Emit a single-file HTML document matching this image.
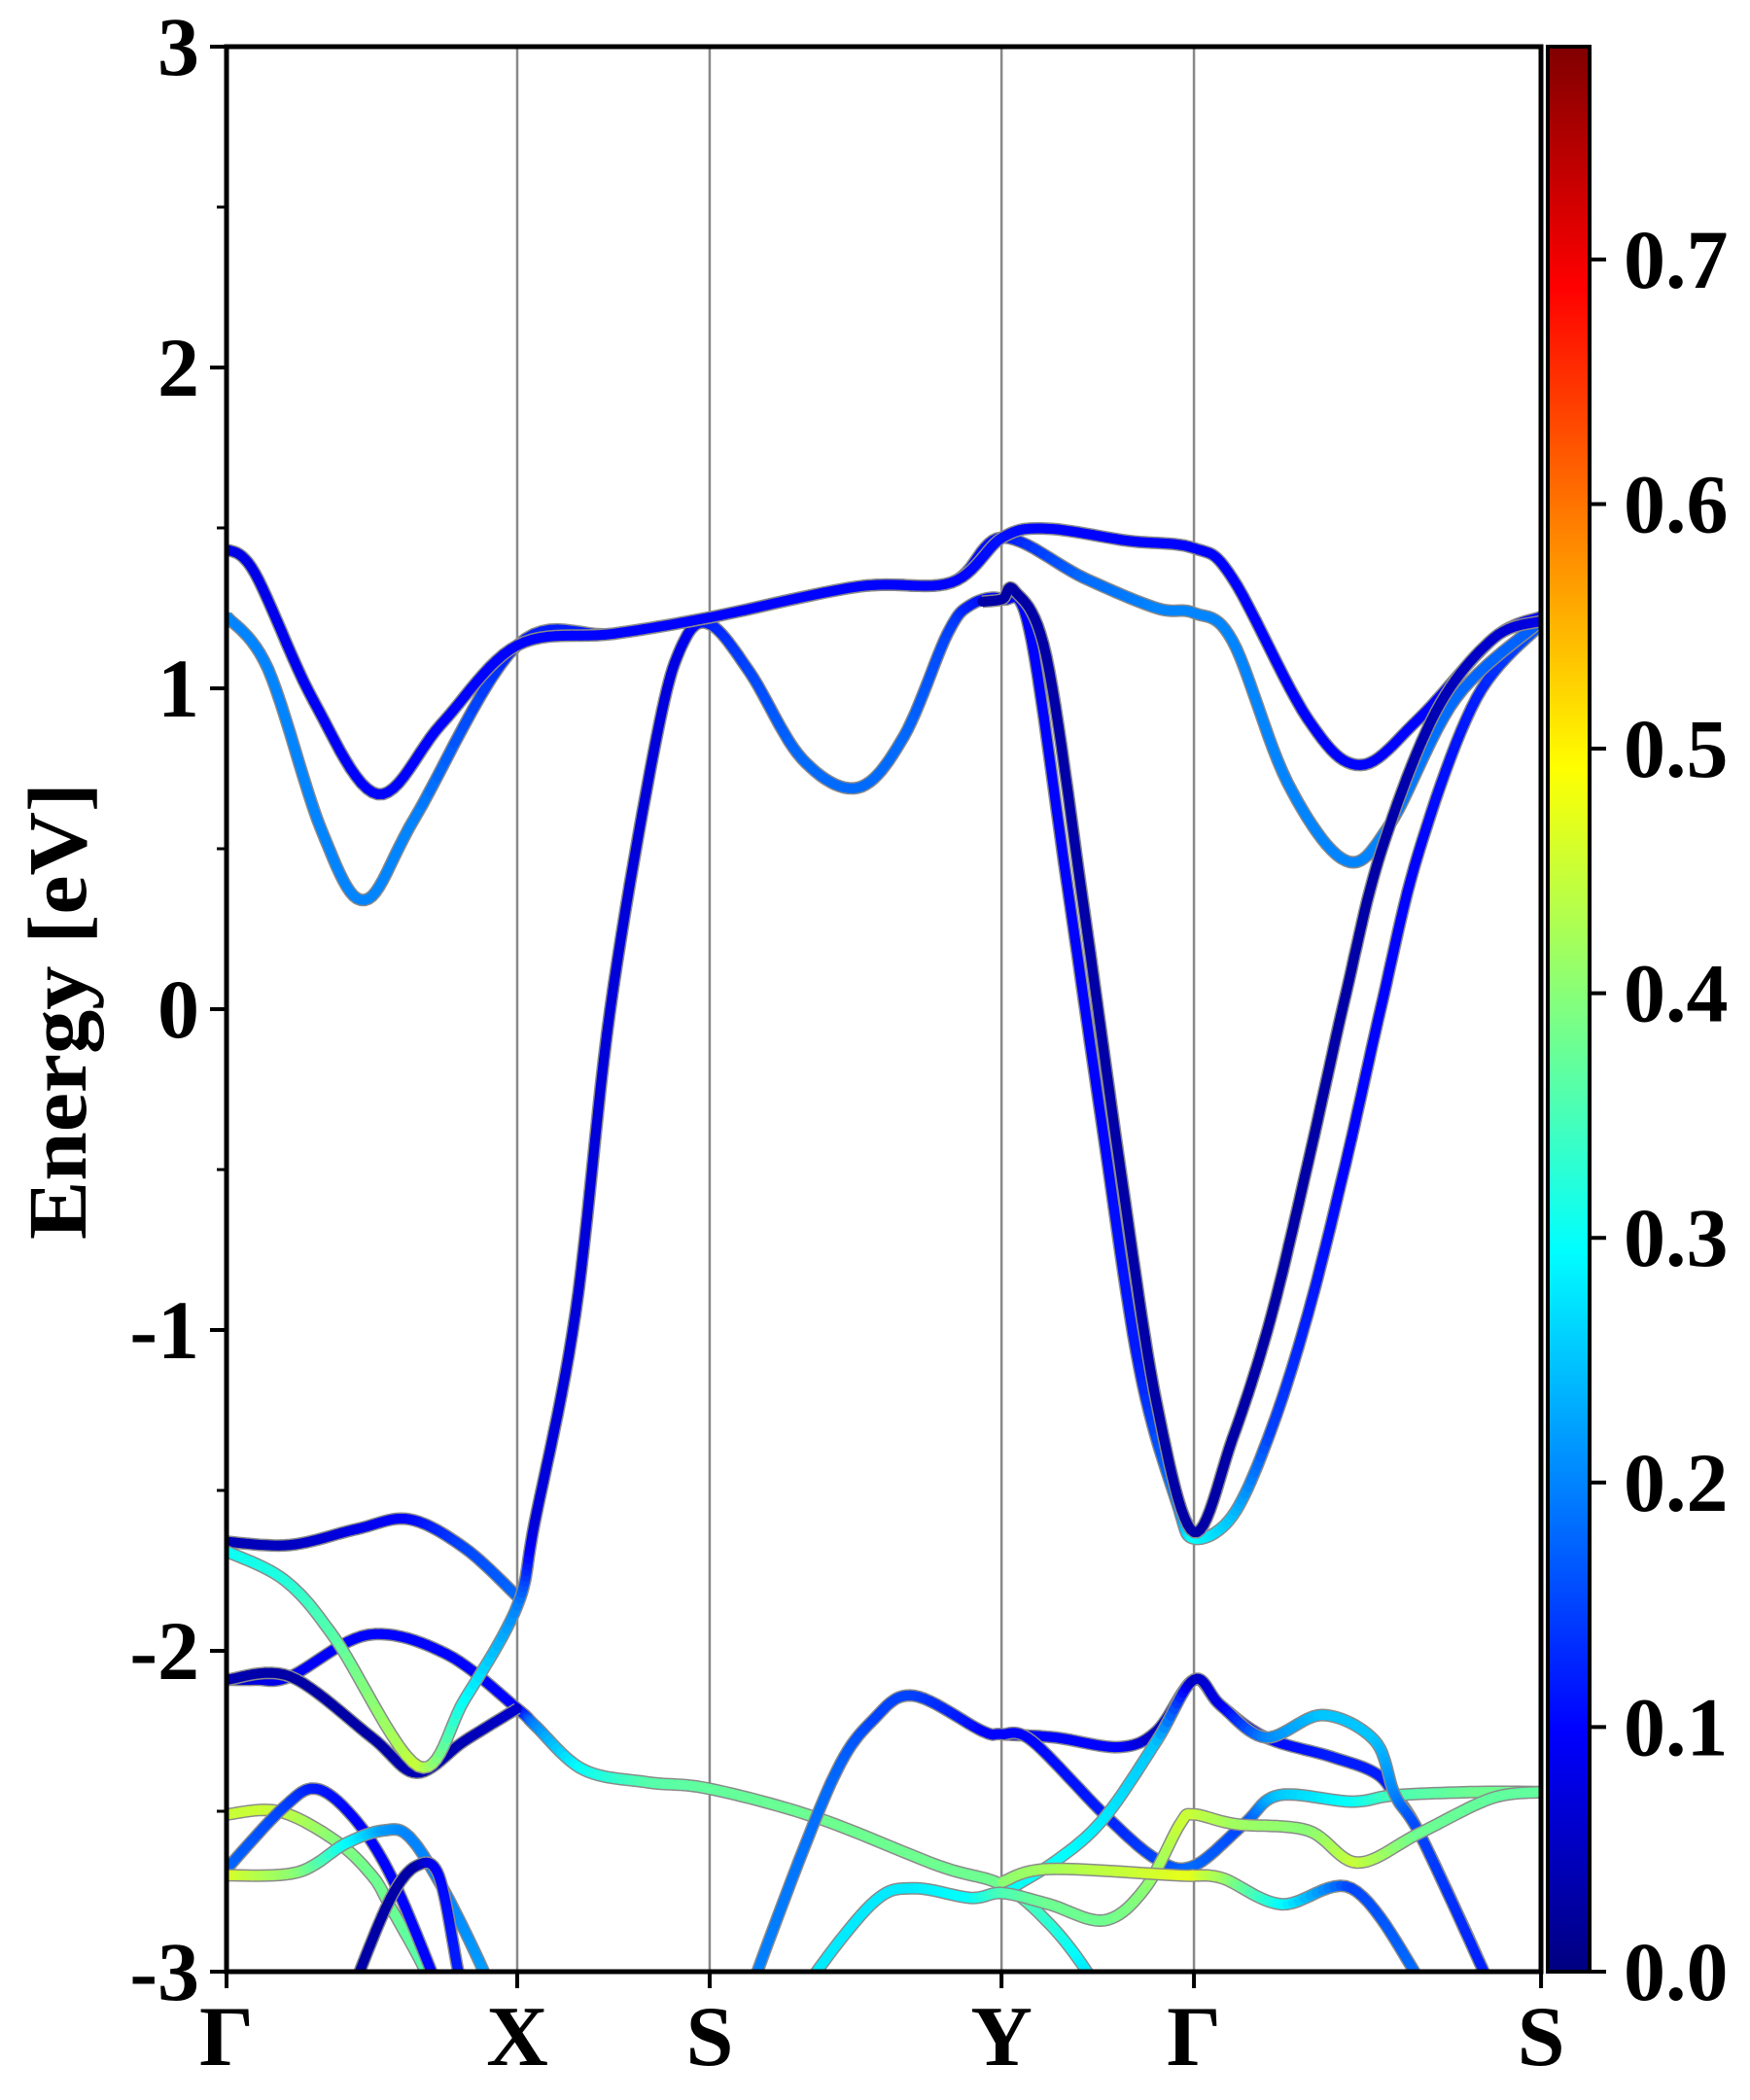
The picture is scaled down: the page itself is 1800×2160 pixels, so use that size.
<!DOCTYPE html>
<html><head><meta charset="utf-8"><style>
html,body{margin:0;padding:0;background:#fff;}
svg{display:block;}
text{font-family:"Liberation Serif","Times New Roman",serif;font-weight:bold;fill:#000;}
</style></head>
<body>
<svg id="chart" width="1800" height="2160" viewBox="0 0 1800 2160" xmlns="http://www.w3.org/2000/svg">
<defs>
<clipPath id="plotclip"><rect x="233" y="48" width="1352" height="1980"/></clipPath>
<linearGradient id="jetgrad" x1="0" y1="1" x2="0" y2="0"></linearGradient>
</defs>
<g id="kgrid"></g>
<g id="bands" clip-path="url(#plotclip)"></g>
<rect x="233" y="48" width="1352" height="1980" fill="none" stroke="#000" stroke-width="5"/>
<g id="yaxis"></g>
<g id="xaxis"></g>
<text transform="translate(88,1040) rotate(-90)" text-anchor="middle" font-size="86" textLength="470" lengthAdjust="spacingAndGlyphs">Energy [eV]</text>
<rect id="cbar" x="1592" y="48" width="43" height="1980" fill="url(#jetgrad)" stroke="#000" stroke-width="4"/>
<g id="cbticks"></g>
</svg>
<script>
const kLabels = ["Γ","X","S","Y","Γ","S"];
const kTicks = [0,1,1.662,2.666,3.328,4.522];
const yTickVals = [-3,-2,-1,0,1,2,3];
const yTickLabels = ["-3","-2","-1","0","1","2","3"];
const cbTickVals = [0,0.1,0.2,0.3,0.4,0.5,0.6,0.7];
const cbTickLabels = ["0.0","0.1","0.2","0.3","0.4","0.5","0.6","0.7"];
const vmax = 0.787;

const b1K=[0,0.097,0.3,0.52,0.74,1,1.33,1.662,2.171,2.494,2.669,2.82,3.1,3.328,3.46,3.72,3.90,4.10,4.36,4.522];
const b1E=[1.434,1.36,0.96,0.67,0.89,1.134,1.17,1.221,1.317,1.33,1.47,1.498,1.46,1.437,1.344,0.904,0.761,0.904,1.157,1.223];
const b1W=[.08,.08,.09,.1,.1,.1,.1,.1,.1,.1,.11,.1,.1,.1,.1,.1,.1,.1,.1,.1];
const b2K=[0,0.143,0.327,0.475,0.65,1,1.33,1.662,2.171,2.494,2.669,2.95,3.2,3.328,3.46,3.65,3.85,4.0,4.23,4.522];
const b2E=[1.225,1.06,0.557,0.34,0.6,1.134,1.17,1.221,1.317,1.33,1.47,1.344,1.25,1.235,1.149,0.706,0.463,0.573,0.97,1.21];
const b2W=[.2,.2,.2,.2,.2,.12,.12,.12,.1,.1,.11,.18,.2,.2,.2,.2,.2,.2,.18,.17];
const b3K=[0,0.2,0.372,0.66,0.82,1,1.06,1.2,1.32,1.48,1.57,1.662,1.8,1.98,2.171,2.33,2.48,2.56,2.669,2.76,2.89,3.01,3.14,3.27,3.328,3.46,3.59,3.72,3.85,3.97,4.10,4.30,4.522];
const b3E=[-1.69,-1.78,-1.96,-2.36,-2.15,-1.86,-1.6,-0.95,0.0,0.85,1.14,1.2,1.05,0.78,0.69,0.85,1.17,1.26,1.278,1.19,0.40,-0.35,-1.12,-1.54,-1.65,-1.58,-1.32,-0.95,-0.48,0.0,0.486,0.97,1.2];
const b3W=[.3,.32,.36,.45,.3,.2,.07,.07,.07,.07,.08,.12,.15,.18,.18,.18,.15,.12,.1,.1,.1,.1,.12,.2,.3,.25,.15,.12,.1,.1,.1,.12,.17];
const b4K=[0,0.219,0.45,0.629,0.82,1];
const b4E=[-1.66,-1.67,-1.62,-1.59,-1.68,-1.83];
const b4W=[.04,.05,.08,.1,.15,.18];
const b5K=[2.60,2.669,2.71,2.82,2.95,3.08,3.20,3.328,3.46,3.59,3.72,3.85,3.97,4.16,4.36,4.522];
const b5E=[1.27,1.278,1.305,1.10,0.31,-0.53,-1.23,-1.63,-1.34,-0.97,-0.48,0.045,0.486,0.927,1.157,1.21];
const b5W=[.03,.03,.03,.03,.03,.03,.03,.03,.03,.03,.03,.03,.03,.04,.06,.08];
const b6K=[0,0.1,0.219,0.488,0.757,1,1.064,1.227,1.45,1.662,2.03,2.45,2.669,2.83,2.96,3.05];
const b6E=[-2.09,-2.09,-2.08,-1.95,-2.01,-2.18,-2.235,-2.37,-2.41,-2.43,-2.52,-2.67,-2.73,-2.85,-3.0,-3.15];
const b6W=[.06,.07,.09,.1,.1,.1,.2,.3,.36,.37,.38,.38,.38,.33,.28,.28];
const b7K=[0,0.219,0.50,0.654,0.82,1];
const b7E=[-2.09,-2.08,-2.27,-2.38,-2.28,-2.18];
const b7W=[.04,.03,.03,.04,.04,.06];
const b8K=[0,0.179,0.372,0.50,0.565,0.68,0.72];
const b8E=[-2.51,-2.50,-2.59,-2.70,-2.80,-2.99,-3.1];
const b8W=[.45,.45,.4,.38,.38,.36,.36];
const b9K=[0,0.194,0.308,0.437,0.565,0.705,0.74];
const b9E=[-2.68,-2.49,-2.43,-2.52,-2.70,-3.0,-3.1];
const b9W=[.18,.15,.12,.1,.1,.1,.1];
const b10K=[0,0.245,0.411,0.539,0.629,0.75,0.885,0.92];
const b10E=[-2.70,-2.69,-2.60,-2.56,-2.58,-2.75,-3.0,-3.1];
const b10W=[.47,.4,.3,.22,.2,.2,.22,.22];
const b11K=[0.43,0.45,0.565,0.654,0.73,0.795,0.82];
const b11E=[-3.1,-3.02,-2.77,-2.67,-2.70,-2.99,-3.1];
const b11W=[.03,.03,.03,.03,.1,.12,.12];
const b12K=[1.80,1.826,2.08,2.23,2.365,2.60,2.669,2.85,3.07,3.2,3.328,3.42,3.575,3.80,3.95,4.02,4.11,4.32,4.36];
const b12E=[-3.1,-3.0,-2.41,-2.21,-2.14,-2.25,-2.26,-2.27,-2.30,-2.25,-2.09,-2.17,-2.27,-2.33,-2.38,-2.45,-2.58,-2.99,-3.1];
const b12W=[.2,.2,.18,.15,.15,.1,.1,.1,.1,.05,.03,.05,.1,.12,.12,.12,.12,.1,.1];
const b13K=[2.669,2.77,3.02,3.20,3.328,3.50,3.62,3.87,4.02,4.3,4.522];
const b13E=[-2.26,-2.28,-2.51,-2.65,-2.67,-2.54,-2.45,-2.47,-2.45,-2.44,-2.44];
const b13W=[.1,.1,.12,.15,.18,.15,.25,.3,.35,.38,.38];
const b14K=[2.669,2.86,3.02,3.20,3.328,3.42,3.575,3.77,3.95,4.02,4.11,4.32];
const b14E=[-2.755,-2.65,-2.52,-2.28,-2.09,-2.17,-2.27,-2.20,-2.28,-2.45,-2.58,-2.99];
const b14W=[.3,.3,.28,.25,.05,.08,.2,.25,.25,.2,.15,.12];
const b15K=[1.98,2.03,2.23,2.365,2.56,2.669,2.83,3.02,3.16,3.28,3.328,3.47,3.72,3.89,4.10,4.35,4.522];
const b15E=[-3.1,-3.0,-2.78,-2.74,-2.77,-2.755,-2.79,-2.84,-2.74,-2.54,-2.51,-2.54,-2.56,-2.66,-2.57,-2.46,-2.44];
const b15W=[.28,.28,.28,.28,.3,.35,.38,.38,.4,.45,.45,.42,.4,.45,.38,.37,.37];
const b16K=[2.669,2.83,3.28,3.328,3.43,3.63,3.87,4.08,4.12];
const b16E=[-2.72,-2.68,-2.70,-2.70,-2.71,-2.79,-2.74,-2.99,-3.1];
const b16W=[.4,.42,.47,.47,.42,.3,.15,.18,.18];

const bandList=[[b6K,b6E,b6W],[b7K,b7E,b7W],[b8K,b8E,b8W],[b9K,b9E,b9W],[b10K,b10E,b10W],[b11K,b11E,b11W],
[b12K,b12E,b12W],[b13K,b13E,b13W],[b14K,b14E,b14W],[b15K,b15E,b15W],[b16K,b16E,b16W],
[b4K,b4E,b4W],[b3K,b3E,b3W],[b2K,b2E,b2W],[b1K,b1E,b1W],[b5K,b5E,b5W]];

const NS="http://www.w3.org/2000/svg";
const X0=233,KS=299,Y0=1038,ES=330;
function xS(k){return X0+k*KS;}
function yS(e){return Y0-e*ES;}
function cl(v){return Math.max(0,Math.min(1,v));}
function jet(t){t=cl(t);const r=cl(1.5-Math.abs(4*t-3)),g=cl(1.5-Math.abs(4*t-2)),b=cl(1.5-Math.abs(4*t-1));
return "rgb("+Math.round(r*255)+","+Math.round(g*255)+","+Math.round(b*255)+")";}
function mk(tag,attrs,parent){const el=document.createElementNS(NS,tag);for(const a in attrs)el.setAttribute(a,attrs[a]);parent.appendChild(el);return el;}

const grad=document.getElementById('jetgrad');
for(let i=0;i<=40;i++){const t=i/40;mk('stop',{offset:t,'stop-color':jet(t)},grad);}

const kg=document.getElementById('kgrid');
kTicks.forEach((k,i)=>{ if(i>0&&i<kTicks.length-1){
 const l=mk('line',{x1:xS(k),x2:xS(k),y1:48,y2:2028,stroke:'#888',"stroke-width":2.5},kg);
 
 }});

const bg=document.getElementById('bands');
function cr(p0,p1,p2,p3,t){const t2=t*t,t3=t2*t;return 0.5*((2*p1)+(-p0+p2)*t+(2*p0-5*p1+4*p2-p3)*t2+(-p0+3*p1-3*p2+p3)*t3);}
bandList.forEach((b,bi)=>{
 const K=b[0],E=b[1],W=b[2];const n=K.length;
 const pts=[];
 for(let i=0;i<n-1;i++){
  const i0=Math.max(0,i-1),i3=Math.min(n-1,i+2);
  for(let s=0;s<12;s++){const t=s/12;
   pts.push([cr(xS(K[i0]),xS(K[i]),xS(K[i+1]),xS(K[i3]),t),cr(yS(E[i0]),yS(E[i]),yS(E[i+1]),yS(E[i3]),t),W[i]+(W[i+1]-W[i])*t]);}
 }
 pts.push([xS(K[n-1]),yS(E[n-1]),W[n-1]]);
 const g=mk('g',{},bg);
 
 
 mk('polyline',{points:pts.map(p=>p[0].toFixed(1)+','+p[1].toFixed(1)).join(' '),fill:'none',stroke:'#8a8a8a','stroke-width':13,'stroke-linejoin':'round'},g);
 for(let i=0;i<pts.length-1;i++){
  mk('line',{x1:pts[i][0].toFixed(1),y1:pts[i][1].toFixed(1),x2:pts[i+1][0].toFixed(1),y2:pts[i+1][1].toFixed(1),stroke:jet((pts[i][2]+pts[i+1][2])/2/vmax),'stroke-width':10,'stroke-linecap':'round'},g);
 }
});

const ya=document.getElementById('yaxis');
yTickVals.forEach((v,i)=>{
 const y=yS(v);
 const t=mk('line',{x1:216,x2:233,y1:y,y2:y,stroke:'#000','stroke-width':4},ya);
 
 
 const tx=mk('text',{x:205,y:y+29,'text-anchor':'end','font-size':86},ya);
 tx.textContent=yTickLabels[i];
 
 
 if(i<yTickVals.length-1){const ym=yS(v+0.5);
  const m=mk('line',{x1:223,x2:233,y1:ym,y2:ym,stroke:'#000','stroke-width':3},ya);
  
  }
});
const xa=document.getElementById('xaxis');
kTicks.forEach((k,i)=>{
 const x=xS(k);
 const t=mk('line',{x1:x,x2:x,y1:2028,y2:2045,stroke:'#000','stroke-width':4},xa);
 
 
 const tx=mk('text',{x:x,y:2124,'text-anchor':'middle','font-size':88},xa);
 tx.textContent=kLabels[i];
 
 
});
const cb=document.getElementById('cbticks');
cbTickVals.forEach((v,i)=>{
 const y=2028-v/vmax*1980;
 const t=mk('line',{x1:1635,x2:1652,y1:y,y2:y,stroke:'#000','stroke-width':4},cb);
 
 
 const tx=mk('text',{x:1670,y:y+29,'font-size':86},cb);
 tx.textContent=cbTickLabels[i];
 
 
});
</script>
</body></html>
